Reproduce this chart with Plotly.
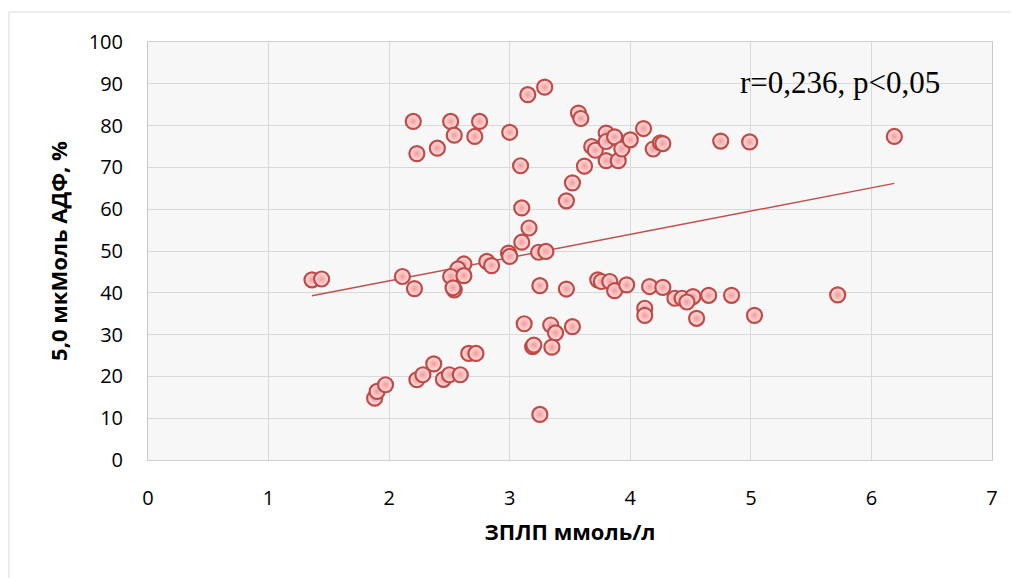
import numpy as np
import plotly.graph_objects as go

# ---- data ----
x_upper = [2.20, 2.23, 2.40, 2.51, 2.54, 2.71, 2.75, 3.00, 3.09, 3.15, 3.29, 3.57, 3.59,
           3.10, 3.16, 3.47, 3.52, 3.62, 3.68, 3.71, 3.80, 3.80, 3.87, 3.80, 3.90, 3.93,
           4.00, 4.11, 4.19, 4.25, 4.27, 4.75, 4.99, 6.19]
y_upper = [81.0, 73.3, 74.6, 81.0, 77.7, 77.4, 81.0, 78.4, 70.4, 87.4, 89.2, 83.0, 81.7,
           60.3, 55.5, 62.0, 66.3, 70.3, 75.0, 74.1, 78.2, 76.2, 77.3, 71.6, 71.6, 74.4,
           76.6, 79.3, 74.4, 75.9, 75.7, 76.3, 76.1, 77.4]

x_middle = [1.36, 1.44, 2.11, 2.21, 3.10, 2.99, 3.00, 3.24, 3.30, 2.81, 2.85, 2.62, 2.57,
            2.51, 2.62, 2.54, 2.53, 3.25, 3.47, 3.73, 3.76, 3.83, 3.87, 3.97, 4.16, 4.27,
            4.37, 4.43, 4.52, 4.47, 4.65, 4.84, 4.12, 4.12, 4.55, 5.03, 5.72]
y_middle = [43.1, 43.3, 43.9, 41.0, 52.1, 49.5, 48.7, 49.7, 49.9, 47.5, 46.5, 46.9, 45.7,
            43.9, 44.1, 40.7, 41.2, 41.7, 40.9, 43.1, 42.7, 42.7, 40.5, 41.9, 41.5, 41.3,
            38.7, 38.7, 39.1, 37.8, 39.4, 39.4, 36.3, 34.6, 33.9, 34.6, 39.5]

x_lower = [3.12, 3.34, 3.38, 3.52, 3.19, 3.20, 3.35, 3.25, 2.66, 2.72, 1.88, 1.90, 1.97,
           2.23, 2.28, 2.37, 2.45, 2.50, 2.59]
y_lower = [32.6, 32.3, 30.4, 31.9, 27.1, 27.5, 27.0, 10.9, 25.5, 25.5, 14.8, 16.4, 18.0,
           19.2, 20.4, 23.0, 19.3, 20.4, 20.4]

trend_slope = 5.57
trend_intercept = 31.7

x_ticks = [0, 1, 2, 3, 4, 5, 6, 7]
y_ticks = [0, 10, 20, 30, 40, 50, 60, 70, 80, 90, 100]

annotation_text = "r=0,236, p<0,05"
x_title = "ЗПЛП ммоль/л"
y_title = "5,0 мкМоль АДФ, %"

# ---- build figure ----
xs = np.array(x_upper + x_middle + x_lower)
ys = np.array(y_upper + y_middle + y_lower)

trend_x = np.array([xs.min(), xs.max()])
trend_y = trend_intercept + trend_slope * trend_x

fig = go.Figure()
fig.add_trace(go.Scatter(
    x=trend_x, y=trend_y, mode="lines",
    line=dict(color="#C0504D", width=1.5),
    hoverinfo="skip", showlegend=False,
))
fig.add_trace(go.Scatter(
    x=xs, y=ys, mode="markers",
    marker=dict(size=15, color="#FFE4E4",
                gradient=dict(type="radial", color="#F49A9A"),
                line=dict(color="#BE4B48", width=2.2)),
    showlegend=False,
))

fig.add_annotation(
    x=5.74, y=90.2, xref="x", yref="y", text=annotation_text, showarrow=False,
    font=dict(family="Liberation Serif", size=31, color="#000000"),
)

axis_font = dict(family="Open Sans", size=20, color="#000000")
fig.update_xaxes(
    range=[0, 7], tickvals=x_ticks, showgrid=True, gridcolor="#D9D9D9", gridwidth=1,
    zeroline=False, showline=True, linecolor="#D0D0D0", mirror=True,
    tickfont=axis_font, ticklabelstandoff=20,
    title=dict(text="<b>" + x_title + "</b>", font=dict(family="Open Sans", size=22, color="#000000"),
               standoff=14),
)
fig.update_yaxes(
    range=[0, 100], tickvals=y_ticks, showgrid=True, gridcolor="#D9D9D9", gridwidth=1,
    zeroline=False, showline=True, linecolor="#C8C8C8", mirror=True,
    tickfont=axis_font, ticklabelstandoff=20,
    title=dict(text="<b>" + y_title + "</b>", font=dict(family="Open Sans", size=22, color="#000000"),
               standoff=14),
)

# plot area in figure pixels (page body has an 8px margin)
L, T, W, H = 140, 34, 844, 418

# outer chart border (right and bottom edges run off the page)
fig.add_shape(type="rect", xref="paper", yref="paper",
              x0=(1 - L) / W, x1=(1060 - L) / W,
              y0=(T + H - 620) / H, y1=1 + (T - 4) / H,
              line=dict(color="#D9D9D9", width=1), fillcolor="rgba(0,0,0,0)", layer="below")

fig.update_layout(
    width=1018, height=578,
    margin=dict(l=L, r=1018 - L - W, t=T, b=578 - T - H, autoexpand=False),
    paper_bgcolor="#FFFFFF", plot_bgcolor="#F7F7F7",
    showlegend=False,
)

fig.write_html("out.html")
